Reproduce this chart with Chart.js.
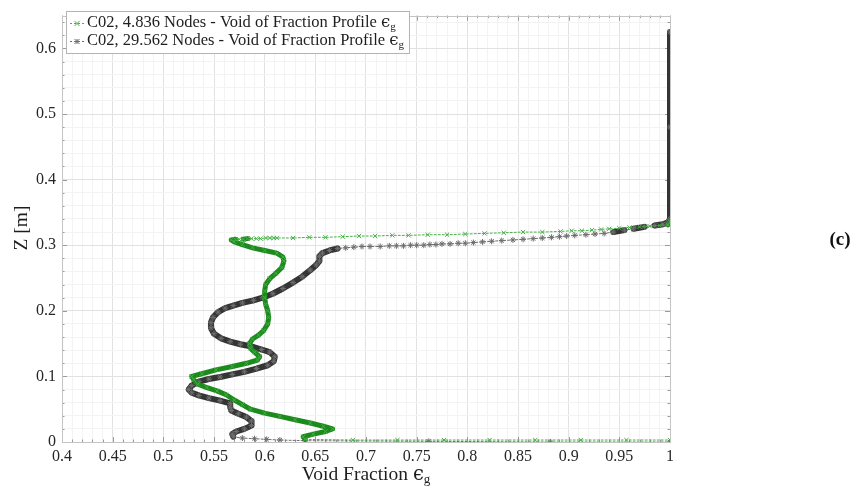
<!DOCTYPE html>
<html>
<head>
<meta charset="utf-8">
<script src="https://cdn.jsdelivr.net/npm/chart.js@4/dist/chart.umd.min.js"></script>
<style>
  body { margin: 0; background: #fff; }
  #wrap { width: 858px; height: 490px; }
</style>
</head>
<body>
<div id="wrap"><canvas id="voidChart" width="858" height="490"></canvas></div>
<script>
// void fraction (x) and height Z (y), read top -> bottom
const greenX = [1.000, 0.998, 0.990, 0.980, 0.970, 0.960, 0.950, 0.940, 0.932, 0.923,
  0.913, 0.903, 0.892, 0.874, 0.855, 0.836, 0.817, 0.798, 0.780, 0.761,
  0.742, 0.726, 0.709, 0.693, 0.677, 0.660, 0.644, 0.628, 0.612, 0.609,
  0.605, 0.601, 0.596, 0.592, 0.587, 0.583, 0.579, 0.575, 0.571, 0.567,
  0.570, 0.578, 0.588, 0.600, 0.612, 0.618, 0.619, 0.617, 0.611, 0.605,
  0.601, 0.600, 0.600, 0.601, 0.603, 0.604, 0.603, 0.599, 0.594, 0.588,
  0.585, 0.586, 0.590, 0.595, 0.593, 0.582, 0.568, 0.552, 0.538, 0.528,
  0.530, 0.534, 0.543, 0.553, 0.562, 0.570, 0.578, 0.586, 0.600, 0.615,
  0.630, 0.645, 0.658, 0.667, 0.660, 0.648, 0.638, 0.640, 0.687, 0.731,
  0.777, 0.822, 0.867, 0.912, 0.957, 1.000];
const greenZ = [0.336, 0.331, 0.330, 0.329, 0.328, 0.327, 0.326, 0.325, 0.324, 0.323,
  0.322, 0.322, 0.321, 0.320, 0.320, 0.319, 0.318, 0.317, 0.316, 0.316,
  0.315, 0.315, 0.314, 0.314, 0.313, 0.312, 0.312, 0.311, 0.311, 0.311,
  0.311, 0.311, 0.310, 0.310, 0.310, 0.310, 0.309, 0.309, 0.309, 0.308,
  0.305, 0.301, 0.296, 0.292, 0.288, 0.282, 0.276, 0.266, 0.257, 0.249,
  0.240, 0.230, 0.220, 0.210, 0.200, 0.190, 0.180, 0.170, 0.163, 0.157,
  0.150, 0.143, 0.137, 0.130, 0.125, 0.120, 0.115, 0.110, 0.104, 0.100,
  0.095, 0.088, 0.083, 0.078, 0.072, 0.064, 0.057, 0.050, 0.044, 0.039,
  0.034, 0.029, 0.024, 0.020, 0.016, 0.012, 0.008, 0.004, 0.003, 0.003,
  0.003, 0.003, 0.003, 0.003, 0.003, 0.003];

const blackX = [1.000, 1.000, 1.000, 0.998, 0.993, 0.985, 0.975, 0.964, 0.955, 0.944,
  0.935, 0.926, 0.917, 0.906, 0.898, 0.891, 0.883, 0.874, 0.865, 0.855,
  0.845, 0.834, 0.824, 0.815, 0.806, 0.798, 0.791, 0.783, 0.775, 0.769,
  0.763, 0.757, 0.750, 0.744, 0.737, 0.730, 0.723, 0.714, 0.704, 0.696,
  0.688, 0.680, 0.672, 0.664, 0.657, 0.654, 0.654, 0.651, 0.645, 0.637,
  0.628, 0.618, 0.608, 0.598, 0.589, 0.578, 0.569, 0.561, 0.554, 0.549,
  0.547, 0.547, 0.550, 0.557, 0.566, 0.576, 0.586, 0.597, 0.605, 0.610,
  0.609, 0.603, 0.592, 0.580, 0.568, 0.556, 0.545, 0.535, 0.528, 0.525,
  0.528, 0.535, 0.545, 0.556, 0.566, 0.566, 0.567, 0.574, 0.582, 0.587,
  0.587, 0.580, 0.572, 0.568, 0.569, 0.578, 0.590, 0.602, 0.615, 0.640,
  0.762, 0.882, 1.000];
const blackZ = [0.625, 0.480, 0.340, 0.335, 0.332, 0.330, 0.328, 0.325, 0.323, 0.320,
  0.318, 0.317, 0.316, 0.315, 0.314, 0.313, 0.312, 0.311, 0.310, 0.309,
  0.308, 0.307, 0.306, 0.305, 0.304, 0.303, 0.303, 0.302, 0.302, 0.301,
  0.301, 0.300, 0.300, 0.300, 0.299, 0.299, 0.299, 0.298, 0.298, 0.298,
  0.297, 0.296, 0.295, 0.292, 0.288, 0.283, 0.276, 0.270, 0.262, 0.252,
  0.243, 0.234, 0.226, 0.220, 0.216, 0.212, 0.208, 0.204, 0.198, 0.190,
  0.182, 0.174, 0.165, 0.158, 0.153, 0.149, 0.146, 0.141, 0.137, 0.130,
  0.123, 0.117, 0.112, 0.107, 0.103, 0.099, 0.096, 0.092, 0.086, 0.080,
  0.075, 0.071, 0.067, 0.063, 0.059, 0.053, 0.048, 0.043, 0.038, 0.032,
  0.025, 0.020, 0.016, 0.012, 0.008, 0.006, 0.005, 0.004, 0.003, 0.002,
  0.001, 0.000, 0.000];

const xTickLabels = [0.4, 0.45, 0.5, 0.55, 0.6, 0.65, 0.7, 0.75, 0.8, 0.85, 0.9, 0.95, 1];
const zTickLabels = [0, 0.1, 0.2, 0.3, 0.4, 0.5, 0.6];
const seriesNames = ['C02, 4.836 Nodes - Void of Fraction Profile ', 'C02, 29.562 Nodes - Void of Fraction Profile '];

const SERIF = '"Liberation Serif", "DejaVu Serif", serif';
const GREEN = 'rgb(28,138,28)';
const GREEN_LIGHT = 'rgb(70,175,70)';
const DARK = 'rgb(52,52,52)';
const DARK_LIGHT = 'rgb(110,110,110)';

const isMajorX = v => Math.abs(v * 20 - Math.round(v * 20)) < 1e-6;
const isMajorZ = v => Math.abs(v * 10 - Math.round(v * 10)) < 1e-6;
const hasLabel = (list, v) => list.some(t => Math.abs(t - v) < 1e-6);

// sparse node spacing (nearly flat, long segments) -> thin dashed line, dense -> thick band
function sparse(c) {
  const dx = Math.abs(c.p1.x - c.p0.x), dy = Math.abs(c.p1.y - c.p0.y);
  return dx > 2.5 && dy < 0.15 * dx;
}

function makeSet(label, xs, zs, color, light, style, wide) {
  return {
    label: label,
    data: xs.map((x, i) => ({ x: x, y: zs[i] })),
    showLine: true,
    borderColor: color,
    borderWidth: wide,
    borderJoinStyle: 'round',
    borderCapStyle: 'round',
    pointStyle: style,
    pointRadius: 3,
    pointBorderWidth: 1,
    pointBorderColor: light,
    pointBackgroundColor: light,
    segment: {
      borderWidth: c => sparse(c) ? 1 : wide,
      borderColor: c => sparse(c) ? light : color,
      borderDash: c => sparse(c) ? [2, 2] : []
    }
  };
}

function drawMarker(ctx, style, x, y, r, color) {
  ctx.save();
  ctx.strokeStyle = color;
  ctx.lineWidth = 1;
  ctx.beginPath();
  ctx.moveTo(x - r, y - r); ctx.lineTo(x + r, y + r);
  ctx.moveTo(x - r, y + r); ctx.lineTo(x + r, y - r);
  if (style === 'star') {
    ctx.moveTo(x - r, y); ctx.lineTo(x + r, y);
    ctx.moveTo(x, y - r); ctx.lineTo(x, y + r);
  }
  ctx.stroke();
  ctx.restore();
}

// text followed by epsilon with subscript g; returns total width
function epsText(ctx, text, x, y, size, measureOnly) {
  ctx.font = size + 'px ' + SERIF;
  let w = ctx.measureText(text).width;
  if (!measureOnly) ctx.fillText(text, x, y);
  ctx.font = size + 'px "DejaVu Serif", serif';
  if (!measureOnly) ctx.fillText('\u03F5', x + w, y);
  w += ctx.measureText('\u03F5').width;
  ctx.font = Math.round(size * 0.68) + 'px ' + SERIF;
  if (!measureOnly) ctx.fillText('g', x + w, y + size * 0.22);
  return w + ctx.measureText('g').width;
}

const overlay = {
  id: 'overlay',
  beforeDatasetsDraw(chart) {
    const { ctx, chartArea: a, scales } = chart;
    ctx.save();
    ctx.strokeStyle = '#9a9a9a';
    ctx.lineWidth = 1;
    ctx.beginPath();
    scales.x.ticks.forEach(t => {
      const px = Math.round(scales.x.getPixelForValue(t.value)) + 0.5;
      const len = isMajorX(t.value) ? 5 : 2.5;
      ctx.moveTo(px, a.bottom); ctx.lineTo(px, a.bottom - len);
      ctx.moveTo(px, a.top); ctx.lineTo(px, a.top + len);
    });
    scales.y.ticks.forEach(t => {
      const py = Math.round(scales.y.getPixelForValue(t.value)) + 0.5;
      const len = isMajorZ(t.value) ? 5 : 2.5;
      ctx.moveTo(a.left, py); ctx.lineTo(a.left + len, py);
      ctx.moveTo(a.right, py); ctx.lineTo(a.right - len, py);
    });
    ctx.stroke();
    ctx.strokeStyle = '#c4c4c4';
    ctx.strokeRect(Math.round(a.left) + 0.5, Math.round(a.top) + 0.5,
      Math.round(a.right - a.left), Math.round(a.bottom - a.top));
    ctx.restore();
  },
  afterDraw(chart) {
    const ctx = chart.ctx;
    ctx.save();
    // legend
    ctx.fillStyle = '#fff';
    ctx.fillRect(66, 11, 344, 43);
    ctx.strokeStyle = '#b4b4b4';
    ctx.lineWidth = 1;
    ctx.strokeRect(66.5, 11.5, 343, 42);
    const rows = [
      { y: 23, color: GREEN_LIGHT, style: 'crossRot' },
      { y: 41, color: DARK_LIGHT, style: 'star' }
    ];
    rows.forEach((r, i) => {
      ctx.strokeStyle = r.color;
      ctx.setLineDash([2, 2]);
      ctx.beginPath();
      ctx.moveTo(70, r.y + 0.5); ctx.lineTo(84, r.y + 0.5);
      ctx.stroke();
      ctx.setLineDash([]);
      drawMarker(ctx, r.style, 77, r.y + 0.5, 2.5, r.color);
      ctx.fillStyle = '#1e1e1e';
      ctx.textBaseline = 'middle';
      ctx.textAlign = 'left';
      epsText(ctx, seriesNames[i], 87, r.y, 16.5);
    });
    // axis titles
    ctx.fillStyle = '#1e1e1e';
    ctx.textBaseline = 'middle';
    ctx.textAlign = 'left';
    const xTitle = 'Void Fraction ';
    const tw = epsText(ctx, xTitle, 0, 0, 19.5, true);
    epsText(ctx, xTitle, 366 - tw / 2, 475, 19.5);
    ctx.save();
    ctx.translate(22, 228);
    ctx.rotate(-Math.PI / 2);
    ctx.textAlign = 'center';
    ctx.font = '19.5px ' + SERIF;
    ctx.fillText('Z [m]', 0, 0);
    ctx.restore();
    // panel tag
    ctx.textAlign = 'center';
    ctx.font = 'bold 19px ' + SERIF;
    ctx.fillStyle = '#111';
    ctx.fillText('(c)', 840, 240);
    ctx.restore();
  }
};

Chart.defaults.font.family = SERIF;
Chart.defaults.font.size = 16;
Chart.defaults.color = '#262626';

const ctx = document.getElementById('voidChart').getContext('2d');
const voidChart = new Chart(ctx, {
  type: 'scatter',
  data: {
    datasets: [
      makeSet(seriesNames[0], greenX, greenZ, GREEN, GREEN_LIGHT, 'crossRot', 5),
      makeSet(seriesNames[1], blackX, blackZ, DARK, DARK_LIGHT, 'star', 6)
    ]
  },
  options: {
    responsive: false,
    animation: false,
    layout: { padding: { left: 0, top: 9, right: 188, bottom: 0 } },
    plugins: {
      legend: { display: false },
      tooltip: { enabled: false }
    },
    scales: {
      x: {
        type: 'linear',
        min: 0.4,
        max: 1,
        afterFit: s => { s.height = 48; },
        border: { display: false },
        grid: {
          drawTicks: false,
          color: c => isMajorX(c.tick.value) ? '#e2e2e2' : '#f3f3f3'
        },
        ticks: {
          stepSize: 0.01,
          autoSkip: false,
          maxRotation: 0,
          padding: 5,
          callback: v => hasLabel(xTickLabels, v) ? String(Number(v.toFixed(2))) : ''
        }
      },
      y: {
        type: 'linear',
        min: 0,
        max: 0.65,
        afterFit: s => { s.width = 62; },
        border: { display: false },
        grid: {
          drawTicks: false,
          color: c => isMajorZ(c.tick.value) ? '#e2e2e2' : '#f3f3f3'
        },
        ticks: {
          stepSize: 0.02,
          includeBounds: false,
          autoSkip: false,
          padding: 6,
          callback: v => hasLabel(zTickLabels, v) ? String(Number(v.toFixed(2))) : ''
        }
      }
    }
  },
  plugins: [overlay]
});
</script>
</body>
</html>
